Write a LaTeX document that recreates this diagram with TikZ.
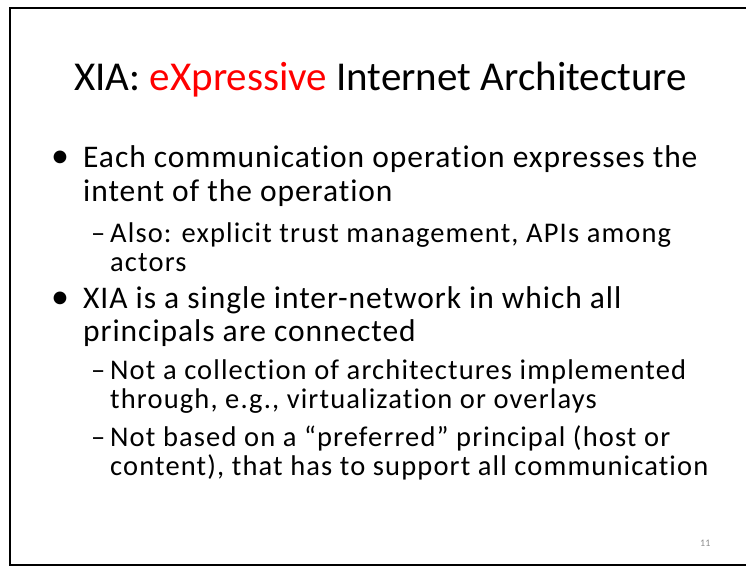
\documentclass[tikz,border=0pt]{standalone}
\usepackage{fontspec}
\setmainfont{Carlito}[Ligatures=CommonOff]
\definecolor{pagegray}{RGB}{140,140,140}
\begin{document}
\begin{tikzpicture}[x=1pt,y=-1pt,
  lvlone/.style={anchor=base west,inner sep=0pt,font=\fontsize{31.5}{37}\selectfont\addfontfeature{LetterSpace=3}},
  lvltwo/.style={anchor=base west,inner sep=0pt,font=\fontsize{28.5}{33}\selectfont\addfontfeature{LetterSpace=4}},
  bulletmark/.style={anchor=base,inner sep=0pt,font=\fontsize{36}{40}\selectfont},
  titletext/.style={anchor=base,inner sep=0pt,font=\fontsize{41}{49}\selectfont},
  pagenum/.style={anchor=base west,inner sep=0pt,text=pagegray,font=\fontsize{10}{12}\selectfont}]
\useasboundingbox (0,0) rectangle (746,566);
% slide frame
\draw[line width=2pt] (10,7.5) rectangle (780,564.5);
% title
\node[titletext] (title) at (380.5,90) {XIA: \textcolor{red}{eXpressive} Internet Architecture};
% first bullet
\node[bulletmark] (b1) at (60,167) {•};
\node[lvlone] (l1) at (83,167) {Each communication operation expresses the};
\node[lvlone] (l2) at (83,201) {intent of the operation};
\node[lvltwo] (d1) at (91,242) {–};
\node[lvltwo] (l3) at (110,242) {Also: explicit trust management, APIs among};
\node[lvltwo] (l4) at (110,271) {actors};
% second bullet
\node[bulletmark] (b2) at (60,308) {•};
\node[lvlone] (l5) at (83,308) {XIA is a single inter-network in which all};
\node[lvlone] (l6) at (83,341) {principals are connected};
\node[lvltwo] (d2) at (91,379) {–};
\node[lvltwo] (l7) at (110,379) {Not a collection of architectures implemented};
\node[lvltwo] (l8) at (110,408) {through, e.g., virtualization or overlays};
\node[lvltwo] (d3) at (91,446) {–};
\node[lvltwo] (l9) at (110,446) {Not based on a “preferred” principal (host or};
\node[lvltwo] (l10) at (110,475) {content), that has to support all communication};
% page number
\node[pagenum] (pg) at (700,546) {11};
\end{tikzpicture}
\end{document}
